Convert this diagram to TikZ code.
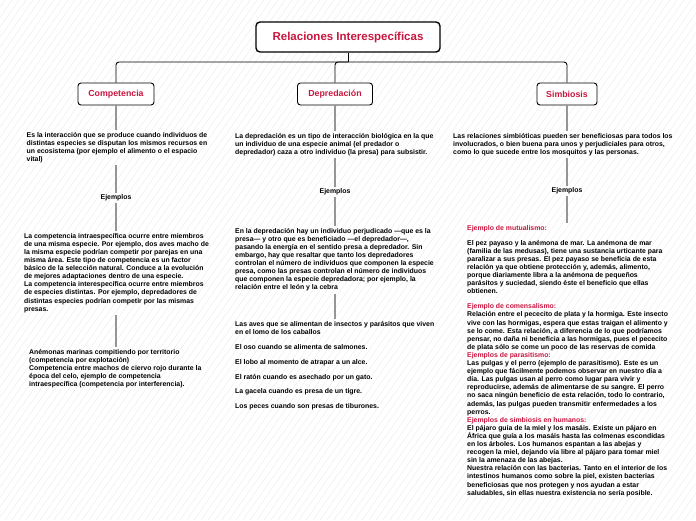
\documentclass[tikz,border=0pt]{standalone}
\usepackage{fontspec}
\setmainfont{Liberation Sans}

\definecolor{hl}{HTML}{C8173F}
\definecolor{linkgray}{HTML}{959595}

\tikzset{
  topic/.style={draw=black, line width=1.4pt, rounded corners=4pt, fill=white, text=hl,
    font=\bfseries\fontsize{11.5}{13}\selectfont, minimum width=184pt, minimum height=30pt},
  branch/.style={draw=black, line width=0.9pt, rounded corners=3pt, fill=white, text=hl,
    font=\bfseries\fontsize{8.8}{10}\selectfont, minimum height=22pt},
  txt/.style={align=left, inner sep=2pt, font=\bfseries\fontsize{6.9}{8.1}\selectfont},
  tree/.style={draw=black, line width=0.9pt, rounded corners=3pt},
  link/.style={draw=linkgray, line width=1.2pt},
}

\begin{document}
\begin{tikzpicture}[x=1pt, y=-1pt]

  \useasboundingbox (0,0) rectangle (696,520);

  % background hatching
  \begin{scope}
    \clip (0,0) rectangle (696,520);
    \foreach \i in {-380,-373,...,696}
      \draw[black!10, line width=0.3pt] (\i,520) -- ++(364,-520);
  \end{scope}

  \node[topic] (title) at (348,37) {Relaciones Interespecíficas};

  \node[branch, minimum width=76pt] (comp) at (116,94) {Competencia};
  \node[branch, minimum width=75pt] (dep) at (335,94) {Depredación};
  \node[branch, minimum width=60pt] (sim) at (567,94) {Simbiosis};

  \coordinate (fork) at (348,62);
  \draw[tree] (title.south) -- (fork);
  \draw[tree] (fork) -| (comp.north);
  \draw[tree] (fork) -| (dep.north);
  \draw[tree] (fork) -| (sim.north);

  % competencia
  \node[txt, anchor=north] (cdef) at (117,130) {Es la interacción que se produce cuando individuos de\\
    distintas especies se disputan los mismos recursos en\\
    un ecosistema (por ejemplo el alimento o el espacio\\
    vital)};
  \node[txt] (cej) at (116,198) {Ejemplos};
  \node[txt, anchor=north] (cintra) at (116.5,231) {La competencia intraespecífica ocurre entre miembros\\
    de una misma especie. Por ejemplo, dos aves macho de\\
    la misma especie podrían competir por parejas en una\\
    misma área. Este tipo de competencia es un factor\\
    básico de la selección natural. Conduce a la evolución\\
    de mejores adaptaciones dentro de una especie.\\
    La competencia interespecífica ocurre entre miembros\\
    de especies distintas. Por ejemplo, depredadores de\\
    distintas especies podrían competir por las mismas\\
    presas.};
  \node[txt, anchor=north west] (cex) at (27,347) {Anémonas marinas compitiendo por territorio\\
    (competencia por explotación)\\
    Competencia entre machos de ciervo rojo durante la\\
    época del celo, ejemplo de competencia\\
    intraespecífica (competencia por interferencia).};

  \draw[link] (comp.south) -- (comp.south |- cdef.north);
  \draw[link] (cej.north |- cdef.south) -- (cej.north);
  \draw[link] (cej.south) -- (cej.south |- cintra.north);
  \draw[link] (cej.south |- cintra.south) -- (cej.south |- cex.north);

  % depredacion
  \node[txt, anchor=north west] (ddef) at (233,131) {La depredación es un tipo de interacción biológica en la que\\
    un individuo de una especie animal (el predador o\\
    depredador) caza a otro individuo (la presa) para subsistir.};
  \node[txt] (dej) at (335,192) {Ejemplos};
  \node[txt, anchor=north west] (dtxt) at (233,226) {En la depredación hay un individuo perjudicado —que es la\\
    presa— y otro que es beneficiado —el depredador—,\\
    pasando la energía en el sentido presa a depredador. Sin\\
    embargo, hay que resaltar que tanto los depredadores\\
    controlan el número de individuos que componen la especie\\
    presa, como las presas controlan el número de individuos\\
    que componen la especie depredadora; por ejemplo, la\\
    relación entre el león y la cebra};
  \node[txt, anchor=north west] (dex) at (233,319) {Las aves que se alimentan de insectos y parásitos que viven\\
    en el lomo de los caballos\\[6.8pt]
    El oso cuando se alimenta de salmones.\\[6.8pt]
    El lobo al momento de atrapar a un alce.\\[6.8pt]
    El ratón cuando es asechado por un gato.\\[6.8pt]
    La gacela cuando es presa de un tigre.\\[6.8pt]
    Los peces cuando son presas de tiburones.};

  \draw[link] (dep.south) -- (dep.south |- ddef.north);
  \draw[link] (dej.north |- ddef.south) -- (dej.north);
  \draw[link] (dej.south) -- (dej.south |- dtxt.north);
  \draw[link] (dej.south |- dtxt.south) -- (dej.south |- dex.north);

  % simbiosis
  \node[txt, anchor=north west] (sdef) at (451,131) {Las relaciones simbióticas pueden ser beneficiosas para todos los\\
    involucrados, o bien buena para unos y perjudiciales para otros,\\
    como lo que sucede entre los mosquitos y las personas.};
  \node[txt] (sej) at (567,191) {Ejemplos};
  \node[txt, anchor=north west] (sex) at (465,223) {\textcolor{hl}{Ejemplo de mutualismo:}\\[6.9pt]
    El pez payaso y la anémona de mar. La anémona de mar\\
    (familia de las medusas), tiene una sustancia urticante para\\
    paralizar a sus presas. El pez payaso se beneficia de esta\\
    relación ya que obtiene protección y, además, alimento,\\
    porque diariamente libra a la anémona de pequeños\\
    parásitos y suciedad, siendo éste el beneficio que ellas\\
    obtienen.\\[6.9pt]
    \textcolor{hl}{Ejemplo de comensalismo:}\\
    Relación entre el pececito de plata y la hormiga. Este insecto\\
    vive con las hormigas, espera que estas traigan el alimento y\\
    se lo come. Esta relación, a diferencia de lo que podríamos\\
    pensar, no daña ni beneficia a las hormigas, pues el pececito\\
    de plata sólo se come un poco de las reservas de comida\\
    \textcolor{hl}{Ejemplos de parasitismo:}\\
    Las pulgas y el perro (ejemplo de parasitismo). Este es un\\
    ejemplo que fácilmente podemos observar en nuestro día a\\
    día. Las pulgas usan al perro como lugar para vivir y\\
    reproducirse, además de alimentarse de su sangre. El perro\\
    no saca ningún beneficio de esta relación, todo lo contrario,\\
    además, las pulgas pueden transmitir enfermedades a los\\
    perros.\\
    \textcolor{hl}{Ejemplos de simbiosis en humanos:}\\
    El pájaro guía de la miel y los masáis. Existe un pájaro en\\
    África que guía a los masáis hasta las colmenas escondidas\\
    en los árboles. Los humanos espantan a las abejas y\\
    recogen la miel, dejando vía libre al pájaro para tomar miel\\
    sin la amenaza de las abejas.\\
    Nuestra relación con las bacterias. Tanto en el interior de los\\
    intestinos humanos como sobre la piel, existen bacterias\\
    beneficiosas que nos protegen y nos ayudan a estar\\
    saludables, sin ellas nuestra existencia no sería posible.};

  \draw[link] (sim.south) -- (sim.south |- sdef.north);
  \draw[link] (sej.north |- sdef.south) -- (sej.north);
  \draw[link] (sej.south) -- (sej.south |- sex.north);

\end{tikzpicture}
\end{document}
